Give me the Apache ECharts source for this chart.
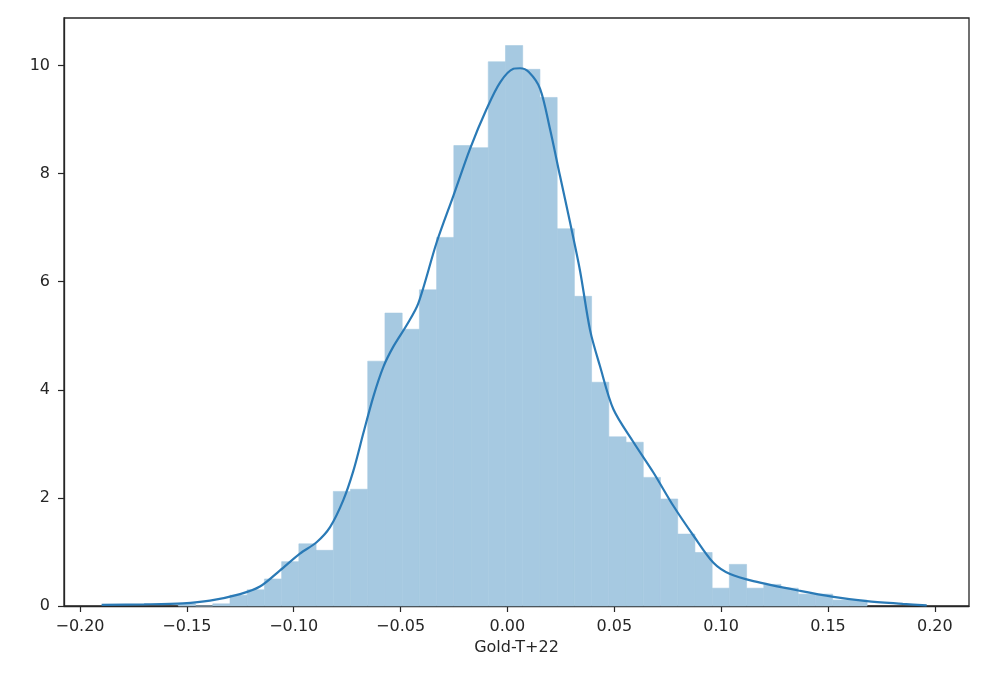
<!DOCTYPE html>
<html>
<head>
<meta charset="utf-8">
<script src="https://cdn.jsdelivr.net/npm/echarts@6/dist/echarts.min.js"></script>
<style>
html,body{margin:0;padding:0;background:#fff;}
#chart{width:985px;height:696px;}
</style>
</head>
<body>
<div id="chart"></div>
<script>
// Histogram: bins start at binStart, each binWidth wide; heights are densities
const binStart = -0.1540;
const binWidth = 0.008058;
const binHeights = [0.04, 0, 0.04, 0.2, 0.3, 0.5, 0.82, 1.15, 1.03, 2.12,
  2.16, 4.53, 5.42, 5.12, 5.85, 6.82, 8.52, 8.48, 10.07, 10.37,
  9.93, 9.41, 6.98, 5.73, 4.14, 3.13, 3.03, 2.38, 1.98, 1.33,
  0.99, 0.33, 0.77, 0.33, 0.4, 0.33, 0.22, 0.22, 0.11, 0.11];

// KDE curve
const kdeX = [-0.1899, -0.1700, -0.1518, -0.1392, -0.1251, -0.1158, -0.1064, -0.0971, -0.0893, -0.0830,
  -0.0768, -0.0721, -0.0674, -0.0627, -0.0580, -0.0534, -0.0471, -0.0417, -0.0331, -0.0253,
  -0.0175, -0.0097, -0.0034, 0.0028, 0.0059, 0.0100, 0.0153, 0.0199, 0.0246, 0.0293,
  0.0340, 0.0387, 0.0433, 0.0496, 0.0590, 0.0683, 0.0777, 0.0871, 0.0964,
  0.1042, 0.1151, 0.1370, 0.1526, 0.1682, 0.1850, 0.1962];
const kdeY = [0.02, 0.03, 0.05, 0.1, 0.22, 0.36, 0.66, 0.97, 1.18, 1.46,
  1.96, 2.5, 3.2, 3.88, 4.43, 4.8, 5.2, 5.6, 6.73, 7.59,
  8.46, 9.2, 9.69, 9.94, 9.95, 9.88, 9.57, 8.83, 7.96, 7.1,
  6.2, 5.1, 4.44, 3.64, 3.03, 2.47, 1.85, 1.3, 0.8,
  0.59, 0.46, 0.28, 0.17, 0.09, 0.04, 0.01];

const xTicks = [-0.20, -0.15, -0.10, -0.05, 0.00, 0.05, 0.10, 0.15, 0.20];
const yTicks = [0, 2, 4, 6, 8, 10];
const xLabel = 'Gold-T+22';

const histData = binHeights.map((h, i) => [binStart + i * binWidth, binStart + (i + 1) * binWidth, h]);
const kdeData = kdeX.map((x, i) => [x, kdeY[i]]);

const chart = echarts.init(document.getElementById('chart'));
const textColor = '#262626';
const font = 'DejaVu Sans';
const barColor = '#a6c9e1';
chart.setOption({
  animation: false,
  backgroundColor: '#ffffff',
  grid: {left: 64, right: 16, top: 18, bottom: 90, show: true, borderColor: '#262626', borderWidth: 1.3, backgroundColor: 'transparent'},
  xAxis: {
    type: 'value', min: -0.2075, max: 0.216,
    name: xLabel, nameLocation: 'middle', nameGap: 32,
    nameTextStyle: {color: textColor, fontSize: 16, fontFamily: font},
    axisLine: {show: true, onZero: false, lineStyle: {color: '#262626', width: 1.3}},
    axisTick: {show: true, length: 6, lineStyle: {color: '#262626', width: 1.2}, customValues: xTicks},
    axisLabel: {color: textColor, fontSize: 16, fontFamily: font, margin: 13, customValues: xTicks,
      formatter: v => (v < 0 ? '\u2212' : '') + Math.abs(v).toFixed(2)},
    splitLine: {show: false}
  },
  yAxis: {
    type: 'value', min: 0, max: 10.88,
    axisLine: {show: true, onZero: false, lineStyle: {color: '#262626', width: 1.3}},
    axisTick: {show: true, length: 6, lineStyle: {color: '#262626', width: 1.2}, customValues: yTicks},
    axisLabel: {color: textColor, fontSize: 16, fontFamily: font, margin: 14, customValues: yTicks,
      formatter: v => String(Math.round(v))},
    splitLine: {show: false}
  },
  series: [
    {
      type: 'custom',
      data: histData,
      encode: {x: [0, 1], y: 2},
      renderItem: function (params, api) {
        const p0 = api.coord([api.value(0), api.value(2)]);
        const p1 = api.coord([api.value(1), 0]);
        return {type: 'rect', shape: {x: p0[0], y: p0[1], width: p1[0] - p0[0], height: p1[1] - p0[1]},
          style: {fill: barColor, stroke: barColor, lineWidth: 0.6}};
      },
      z: 1
    },
    {
      type: 'line',
      data: kdeData,
      showSymbol: false,
      smooth: 0.3,
      lineStyle: {color: '#2a7ab6', width: 2.2},
      z: 3
    }
  ]
});
</script>
</body>
</html>
